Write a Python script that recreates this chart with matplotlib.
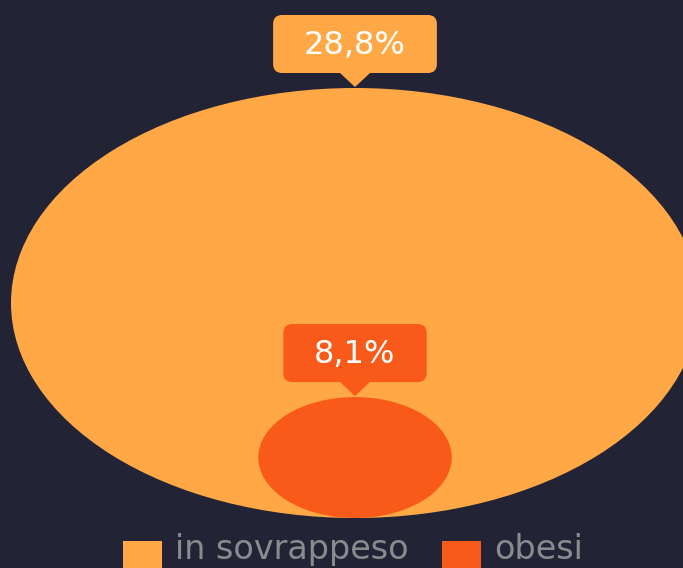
import matplotlib.pyplot as plt
from matplotlib.patches import Ellipse, FancyBboxPatch, Polygon, Rectangle

labels = ['in sovrappeso', 'obesi']
values = [28.8, 8.1]
value_text = ['28,8%', '8,1%']
colors = ['#ffa845', '#fa5a19']

W, H = 683, 568
bg = '#232336'
fig = plt.figure(figsize=(W / 100, H / 100), dpi=100, facecolor=bg)
ax = fig.add_axes([0, 0, 1, 1])
ax.set_xlim(0, W)
ax.set_ylim(H, 0)
ax.axis('off')
ax.set_facecolor(bg)

px_per_unit = 215 / 28.8   # vertical radius in px per percentage point
stretch = 1.6              # bubbles are drawn wider than tall
cx, base = 355, 518
font = ['DejaVu Sans']

fig.canvas.draw()
renderer = fig.canvas.get_renderer()

# nested bubbles, largest first, all resting on the same baseline
for val, col, txt in sorted(zip(values, colors, value_text), reverse=True):
    r = val * px_per_unit
    ax.add_patch(Ellipse((cx, base - r), 2 * r * stretch, 2 * r, color=col, lw=0))
    tip = base - 2 * r - 1
    box_bottom = tip - 14
    box_h = 58
    t = ax.text(cx, box_bottom - box_h / 2 + 1, txt, ha='center', va='center',
                color='white', fontsize=23, family=font, zorder=5)
    w = t.get_window_extent(renderer).width + 62
    ax.add_patch(FancyBboxPatch((cx - w / 2, box_bottom - box_h), w, box_h,
                                boxstyle='round,pad=0,rounding_size=9',
                                fc=col, ec='none', zorder=4))
    ax.add_patch(Polygon([(cx - 15, box_bottom), (cx + 15, box_bottom), (cx, tip)],
                         closed=True, fc=col, ec='none', zorder=4))

# legend along the bottom edge
sq, gap, sep = 39, 13, 34
widths = []
for lab in labels:
    t = ax.text(0, 0, lab, fontsize=24, family=font)
    widths.append(t.get_window_extent(renderer).width)
    t.remove()
total = sum(sq + gap + w for w in widths) + sep * (len(labels) - 1)
x = 353 - total / 2
for lab, col, w in zip(labels, colors, widths):
    ax.add_patch(Rectangle((x, 541), sq, 30, fc=col, ec='none'))
    ax.text(x + sq + gap, 559, lab, ha='left', va='baseline', fontsize=24,
            family=font, color='#8b8b8f')
    x += sq + gap + w + sep

fig.savefig('out.png', dpi=100, facecolor=bg)
